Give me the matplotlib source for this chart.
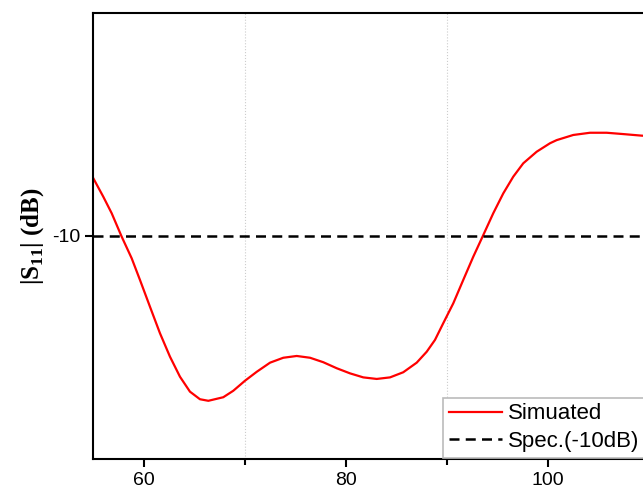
#!/usr/bin/env python3

import matplotlib
matplotlib.use('Agg')
import matplotlib.pyplot as plt

#-------------------------------------------------------------------------------

freq = [55.0, 55.99, 56.82, 57.81, 58.80, 59.62, 60.61, 61.60, 62.59, 63.58,
        64.57, 65.56, 66.39, 67.87, 68.86, 70.02, 71.18, 72.50, 73.81, 75.14,
        76.46, 77.77, 79.10, 80.42, 81.73, 83.06, 84.38, 85.69, 87.02, 88.01,
        88.83, 89.65, 90.64, 91.63, 92.62, 93.61, 94.60, 95.59, 96.58, 97.57,
        98.90, 100.22, 100.88, 102.52, 104.18, 105.83, 107.48, 109.30, 110.0]
s11 = [-7.41, -8.24, -8.98, -10.03, -11.00, -11.97, -13.17, -14.36, -15.41, -16.31,
       -16.98, -17.32, -17.39, -17.23, -16.94, -16.49, -16.09, -15.68, -15.46, -15.38,
       -15.46, -15.66, -15.93, -16.16, -16.34, -16.41, -16.34, -16.11, -15.68, -15.19,
       -14.66, -13.91, -13.02, -11.97, -10.93, -9.96, -8.98, -8.09, -7.34, -6.74,
       -6.22, -5.84, -5.70, -5.47, -5.37, -5.37, -5.43, -5.50, -5.52]
spec_level = -10

#-------------------------------------------------------------------------------

plt.rcParams['font.family'] = ['Liberation Sans', 'DejaVu Sans']

fig = plt.figure(figsize=(6.43, 4.96), dpi=100)
ax = fig.add_axes([93.3 / 643, 37 / 496, 555.5 / 643, 446 / 496])

ax.plot(freq, s11, color='#ff0000', lw=1.6, label='Simuated')
ax.axhline(spec_level, color='black', lw=1.8, ls=(0, (4, 2.5)), label='Spec.(-10dB)')

ax.set_xlim(55, 110)
ax.set_ylim(-20, 0)
ax.set_xticks([60, 80, 100])
ax.set_xticks([70, 90], minor=True)
ax.set_yticks([spec_level])
ax.set_yticklabels(['-10'])
ax.grid(True, which='minor', axis='x', color='#cccccc', ls=':', lw=0.8)

for side in ['left', 'bottom', 'top', 'right']:
    ax.spines[side].set_linewidth(1.5)
ax.tick_params(axis='both', which='both', direction='out', width=1.5, labelsize=14)
ax.tick_params(which='major', length=6)
ax.tick_params(which='minor', length=4)

ax.set_ylabel(r'|S$_\mathregular{11}$| (dB)', family='Liberation Serif',
              fontweight='bold', fontsize=18, labelpad=4)

leg = ax.legend(loc='lower left', bbox_to_anchor=(0.63, 0.003), borderaxespad=0,
                fontsize=16, fancybox=False, framealpha=1, handlelength=2.4,
                handletextpad=0.25, borderpad=0.25, labelspacing=0.3)
leg.get_frame().set_edgecolor('#bbbbbb')
leg.get_frame().set_linewidth(1.2)

plt.savefig('out.png', dpi=100)
